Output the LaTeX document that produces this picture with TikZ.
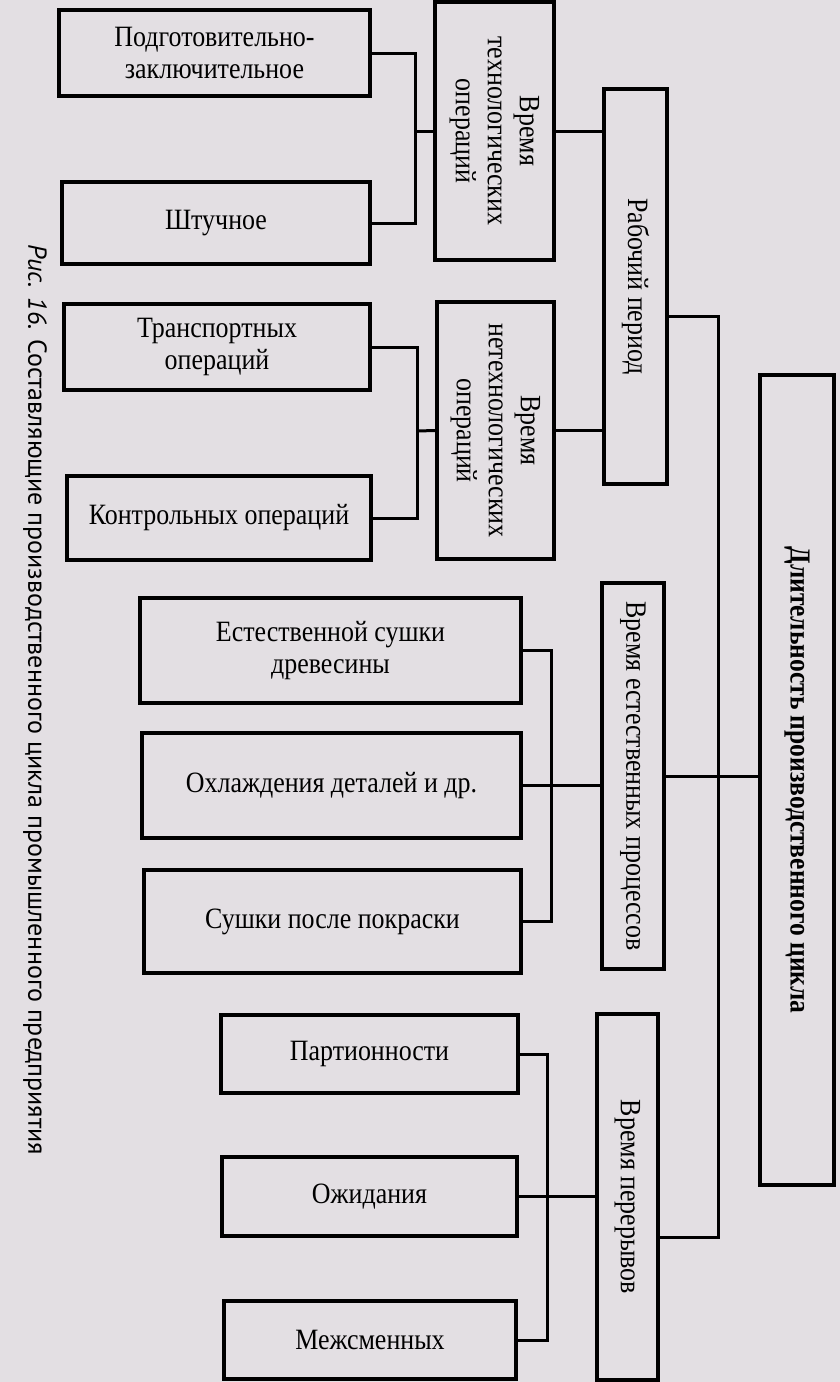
\documentclass[tikz,border=0pt]{standalone}
\usepackage{fontspec}
\setmainfont{Liberation Serif}[FakeStretch=0.88]
\newfontfamily\capfont{PT Sans}
\definecolor{paper}{RGB}{227,223,227}
\tikzset{
  blk/.style={draw=black, line width=3.5pt, rectangle, inner sep=0pt},
  lbl/.style={align=center, inner sep=0pt, font=\fontsize{29.5}{32}\selectfont},
  con/.style={line width=3pt},
}
\begin{document}
\begin{tikzpicture}[x=1pt,y=1pt,yscale=-1,xscale=1]
\useasboundingbox (0,0) rectangle (840,1382);
\fill[paper] (0,0) rectangle (840,1382);

% Left column
\node[blk, minimum width=311, minimum height=86] (pz) at (214.5,53) {};
\node[blk, minimum width=308, minimum height=82] (sht) at (216,223) {};
\node[blk, minimum width=306, minimum height=86] (tr) at (217,347) {};
\node[blk, minimum width=304, minimum height=84] (kon) at (219,518) {};
\node[blk, minimum width=381, minimum height=105] (es) at (330.5,650.5) {};
\node[blk, minimum width=379, minimum height=105] (oh) at (331.5,785.5) {};
\node[blk, minimum width=377, minimum height=103] (sp) at (332.5,921.5) {};
\node[blk, minimum width=297, minimum height=78] (part) at (369.5,1054) {};
\node[blk, minimum width=295, minimum height=79] (ozh) at (369.5,1196.5) {};
\node[blk, minimum width=292, minimum height=78] (mezh) at (370,1340) {};

% Vertical boxes
\node[blk, minimum width=119, minimum height=258] (vto) at (494.5,131) {};
\node[blk, minimum width=117, minimum height=257] (vnto) at (495.5,430.5) {};
\node[blk, minimum width=63, minimum height=395] (rp) at (635.5,286.5) {};
\node[blk, minimum width=62, minimum height=386] (vep) at (633,776) {};
\node[blk, minimum width=61, minimum height=366] (vp) at (627.5,1197) {};
\node[blk, minimum width=74, minimum height=810] (dpc) at (797,780) {};

% Text Node
\node[lbl] at (pz) {Подготовительно-\\заключительное};
\node[lbl] at (sht) {Штучное};
\node[lbl] at (tr) {Транспортных\\операций};
\node[lbl] at (kon) {Контрольных операций};
\node[lbl] at (es) {Естественной сушки\\древесины};
\node[lbl] at (oh) {Охлаждения деталей и др.};
\node[lbl] at (sp) {Сушки после покраски};
\node[lbl] at (part) {Партионности};
\node[lbl] at (ozh) {Ожидания};
\node[lbl] at (mezh) {Межсменных};
\node[lbl, rotate=-90] at (vto) {Время\\технологических\\операций};
\node[lbl, rotate=-90] at (vnto) {Время\\нетехнологических\\операций};
\node[lbl, rotate=-90] at (rp) {Рабочий период};
\node[lbl, rotate=-90] at (vep) {Время естественных процессов};
\node[lbl, rotate=-90] at (vp) {Время перерывов};
\node[lbl, rotate=-90, font=\fontsize{29}{32}\selectfont\bfseries] at (dpc) {Длительность производственного цикла};

% Caption
\node[rotate=-90, inner sep=0pt, font=\capfont\fontsize{26}{30}\selectfont] (cap) at (35,700) {\textit{Рис. 16.} Составляющие производственного цикла промышленного предприятия};

% Connectors
\coordinate (b1) at (415,131);
\coordinate (b2) at (417,431);
\coordinate (b4) at (551,785.5);
\coordinate (b5) at (547,1196.5);
\coordinate (b3t) at (718,316);
\coordinate (b3b) at (718,1237);
\draw[con] (pz.east) -| (b1) |- (sht.east);
\draw[con] (b1) -- (vto.west);
\draw[con] (tr.east) -| (b2) |- (kon.east);
\draw[con] (b2) -- (vnto.west);
\draw[con] (vto.east) -- (vto.east -| rp.west);
\draw[con] (vnto.east) -- (vnto.east -| rp.west);
\draw[con] (rp.east |- b3t) -- (b3t) -- (b3b) -- (vp.east |- b3b);
\draw[con] (es.east) -| (b4) |- (sp.east);
\draw[con] (oh.east) -- (oh.east -| vep.west);
\draw[con] (vep.east) -- (vep.east -| dpc.west);
\draw[con] (part.east) -| (b5) |- (mezh.east);
\draw[con] (ozh.east) -- (ozh.east -| vp.west);

\end{tikzpicture}
\end{document}
